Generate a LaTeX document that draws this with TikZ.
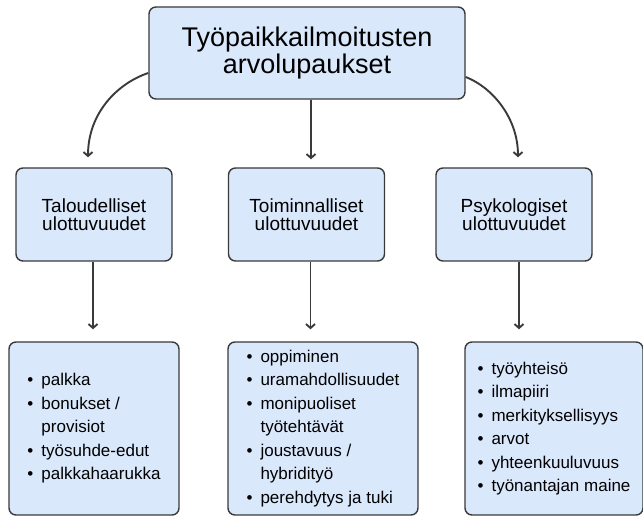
\documentclass[tikz,border=0pt]{standalone}
\usepackage{fontspec}
\setmainfont{Liberation Sans}
\usetikzlibrary{arrows.meta}
\definecolor{boxfill}{HTML}{DAE8FC}
\definecolor{boxline}{HTML}{3A3A3A}
\definecolor{arrcol}{HTML}{3A3A3A}
\newcommand\bitem[1]{\makebox[14pt][l]{\textbullet}#1}
\newcommand\cont[1]{\hspace*{14pt}#1}
\begin{document}
\begin{tikzpicture}[x=1pt,y=-1pt,
  box/.style={draw=boxline, fill=boxfill, line width=1.4pt, rounded corners=7pt, inner sep=0pt},
  titlebox/.style={box, align=center, font=\fontsize{27}{25}\selectfont},
  dimbox/.style={box, align=center, minimum width=156pt, minimum height=93pt, font=\fontsize{19}{18.5}\selectfont},
  listbox/.style={box, align=left, minimum height=173pt, font=\fontsize{17}{23.5}\selectfont},
  arr/.style={draw=arrcol, line width=1.9pt, -{Straight Barb[length=4pt,width=9pt]}},
]
\clip (0,0) rectangle (643,518);
\fill[white] (0,0) rectangle (643,518);

\node[titlebox, minimum width=316pt, minimum height=92pt] (top) at (307,53) {Työpaikkailmoitusten\\arvolupaukset};

\node[dimbox] (tal) at (94,214.5) {Taloudelliset\\ulottuvuudet};
\node[dimbox] (toi) at (306.5,214.5) {Toiminnalliset\\ulottuvuudet};
\node[dimbox] (psy) at (514,214.5) {Psykologiset\\ulottuvuudet};

\node[listbox, minimum width=170pt] (f1) at (94,428.5) {\bitem{palkka}\\\bitem{bonukset /}\\\cont{provisiot}\\\bitem{työsuhde-edut}\\\bitem{palkkahaarukka}};
\node[listbox, minimum width=190pt] (f2) at (323,428.5) {\bitem{oppiminen}\\\bitem{uramahdollisuudet}\\\bitem{monipuoliset}\\\cont{työtehtävät}\\\bitem{joustavuus /}\\\cont{hybridityö}\\\bitem{perehdytys ja tuki}};
\node[listbox, minimum width=178pt] (f3) at (554,428.5) {\bitem{työyhteisö}\\\bitem{ilmapiiri}\\\bitem{merkityksellisyys}\\\bitem{arvot}\\\bitem{yhteenkuuluvuus}\\\bitem{työnantajan maine}};

% top to dimensions
\draw[arr] ([yshift=-20pt]top.west) .. controls +(-30,10) and +(0,-45) .. ([xshift=-6pt,yshift=10pt]tal.north);
\draw[arr] ([xshift=4pt]top.south) -- ([xshift=4pt,yshift=8pt]top.south |- toi.north);
\draw[arr] ([yshift=-24pt]top.east) .. controls +(26,10) and +(0,-40) .. ([xshift=4pt,yshift=10pt]psy.north);

% dimensions to lists
\draw[arr] ([xshift=-1pt]tal.south) -- ([xshift=-1pt,yshift=12pt]tal.south |- f1.north);
\draw[arr] ([xshift=4pt]toi.south) -- ([xshift=4pt,yshift=12pt]toi.south |- f2.north);
\draw[arr] ([xshift=5pt]psy.south) -- ([xshift=5pt,yshift=12pt]psy.south |- f3.north);
\end{tikzpicture}
\end{document}
